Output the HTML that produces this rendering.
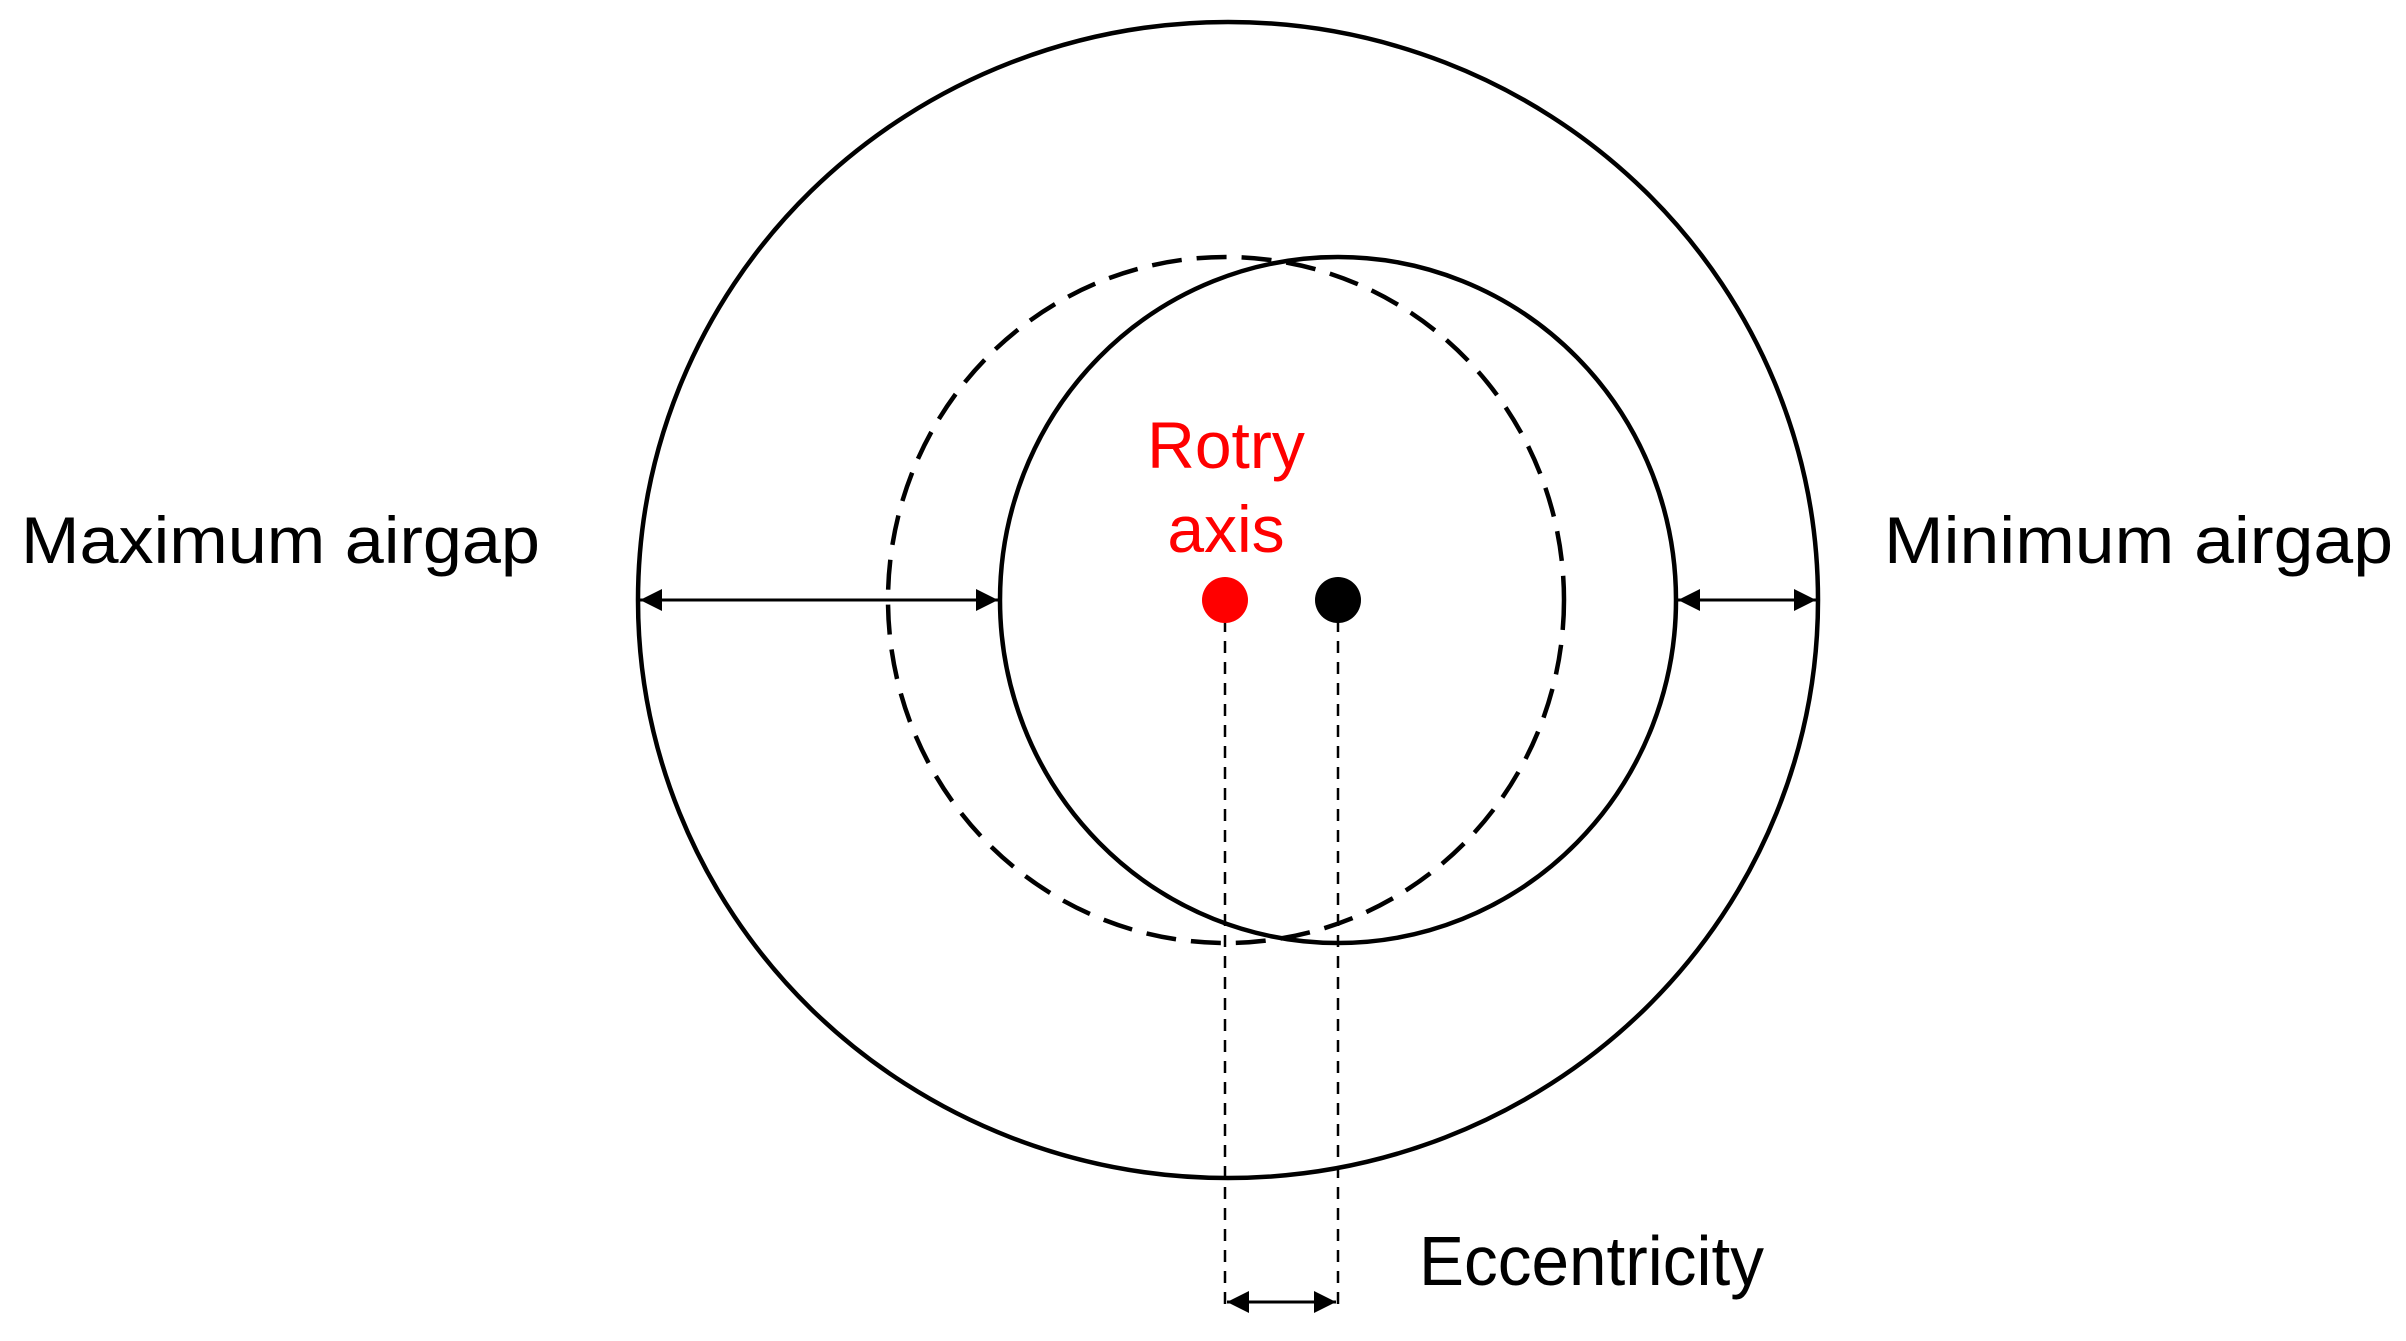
<!DOCTYPE html>
<html><head><meta charset="utf-8"><style>html,body{margin:0;padding:0;background:#fff}svg{display:block}</style></head>
<body>
<svg width="2406" height="1341" viewBox="0 0 2406 1341" xmlns="http://www.w3.org/2000/svg">
<defs>
<marker id="b" viewBox="0 0 10 10" refX="10" refY="5" markerWidth="24" markerHeight="22" orient="auto-start-reverse" markerUnits="userSpaceOnUse">
<path d="M0,0 L10,5 L0,10 z" fill="#000"/></marker>
</defs>
<ellipse cx="1228" cy="600" rx="590" ry="578" fill="none" stroke="#000" stroke-width="4.5"/>
<ellipse cx="1226" cy="600" rx="338" ry="343" fill="none" stroke="#000" stroke-width="4.5" stroke-dasharray="30,15"/>
<ellipse cx="1338" cy="600" rx="338" ry="343" fill="none" stroke="#000" stroke-width="4.5"/>
<line x1="640" y1="600" x2="998" y2="600" stroke="#000" stroke-width="3" marker-start="url(#b)" marker-end="url(#b)"/>
<line x1="1678" y1="600" x2="1816" y2="600" stroke="#000" stroke-width="3" marker-start="url(#b)" marker-end="url(#b)"/>
<line x1="1225" y1="620" x2="1225" y2="1305" stroke="#000" stroke-width="2.5" stroke-dasharray="12,9"/>
<line x1="1338" y1="620" x2="1338" y2="1305" stroke="#000" stroke-width="2.5" stroke-dasharray="12,9"/>
<line x1="1227" y1="1302" x2="1336" y2="1302" stroke="#000" stroke-width="3" marker-start="url(#b)" marker-end="url(#b)"/>
<circle cx="1225" cy="600" r="23" fill="#ff0000"/>
<circle cx="1338" cy="600" r="23" fill="#000"/>
<g font-family="Liberation Sans, DejaVu Sans, sans-serif" font-size="66">
<text x="21" y="563" textLength="519" lengthAdjust="spacingAndGlyphs">Maximum airgap</text>
<text x="1884" y="563" textLength="509" lengthAdjust="spacingAndGlyphs">Minimum airgap</text>
<text x="1419" y="1285" textLength="345" lengthAdjust="spacingAndGlyphs" font-size="70">Eccentricity</text>
<text x="1226" y="468" text-anchor="middle" fill="#ff0000">Rotry</text>
<text x="1226" y="552" text-anchor="middle" fill="#ff0000">axis</text>
</g>
</svg>
</body></html>
